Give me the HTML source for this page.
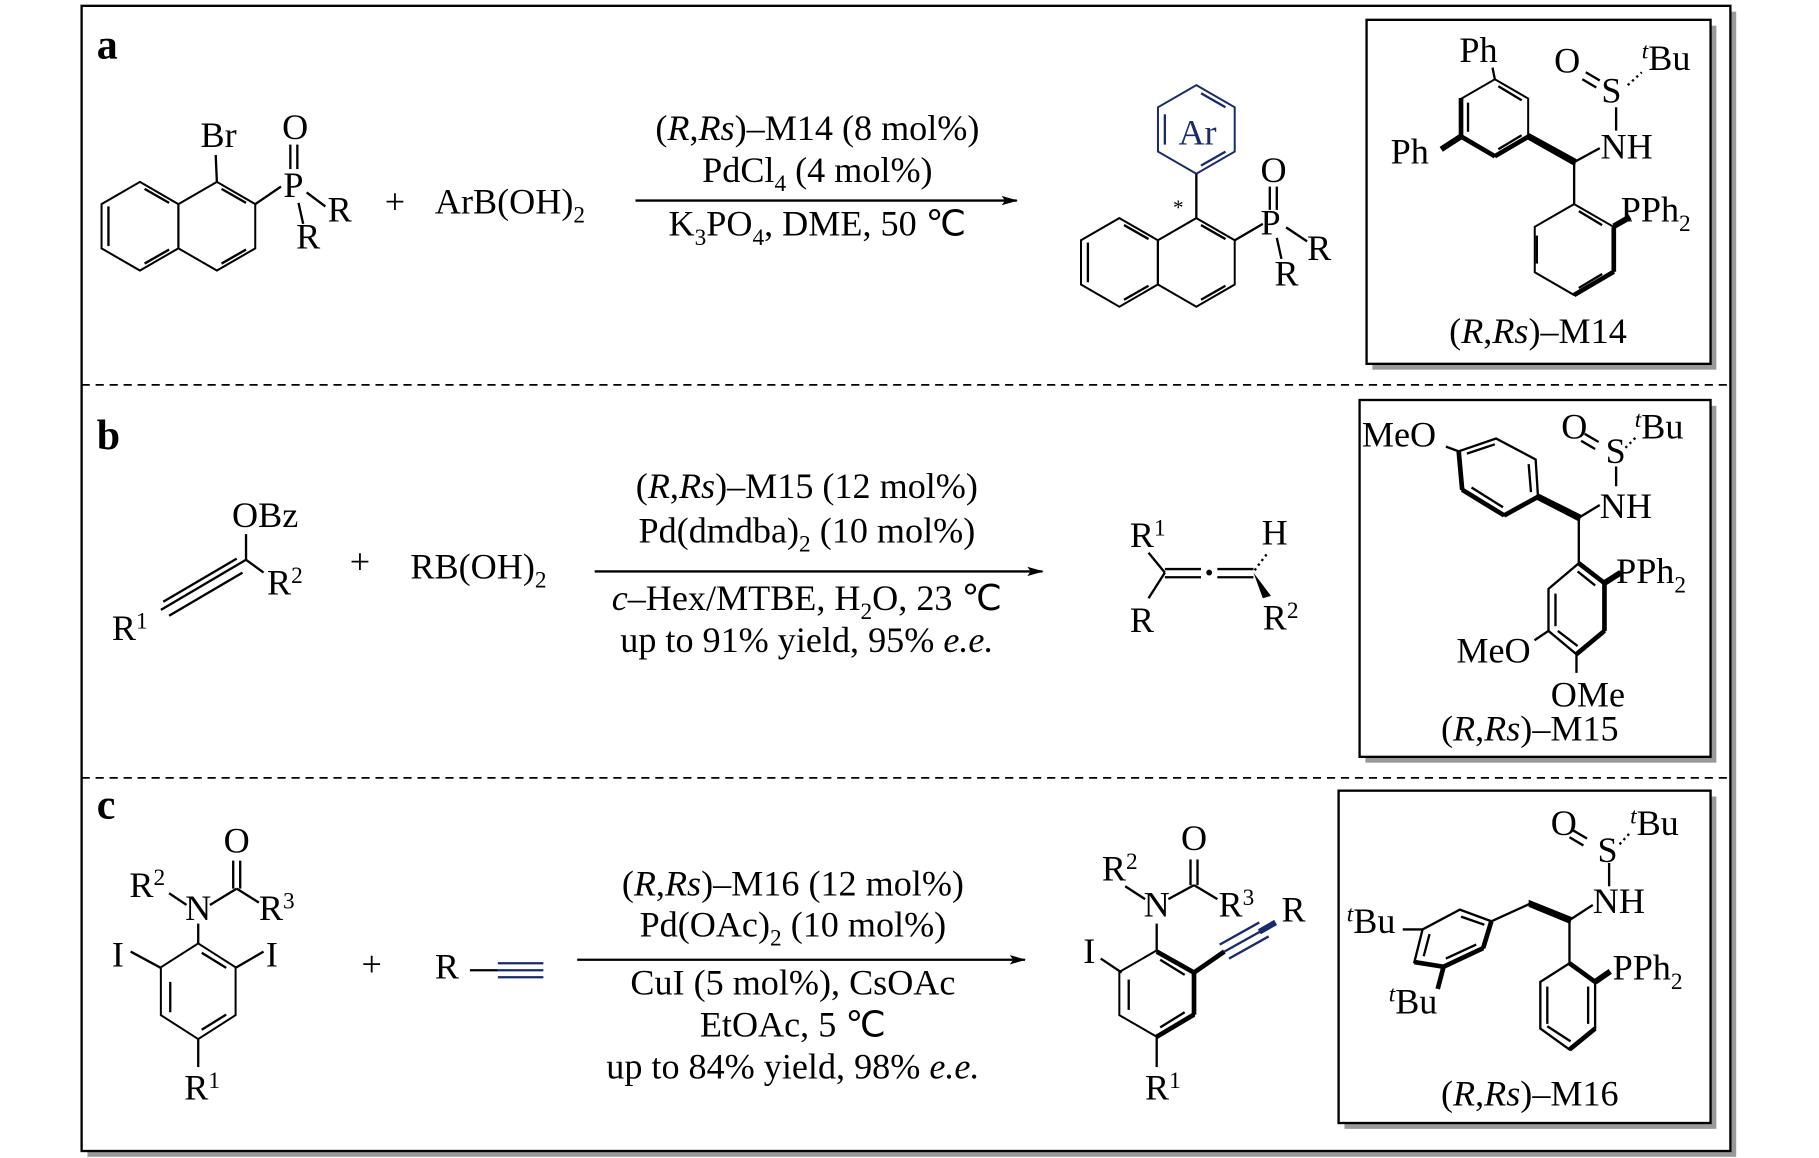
<!DOCTYPE html>
<html><head><meta charset="utf-8"><style>
html,body{margin:0;padding:0;background:#fff;}
svg{display:block;}
text{font-family:"Liberation Serif",serif;fill:#000;}
</style></head><body>
<svg width="1819" height="1158" viewBox="0 0 1560 993" preserveAspectRatio="none" xmlns="http://www.w3.org/2000/svg">
<defs>
<polygon id="hx" points="0,-1 0.866,-0.5 0.866,0.5 0,1 -0.866,0.5 -0.866,-0.5" fill="none" stroke="#000" stroke-width="2" vector-effect="non-scaling-stroke"/>
<polygon id="hxb" points="0,-1 0.866,-0.5 0.866,0.5 0,1 -0.866,0.5 -0.866,-0.5" fill="none" stroke="#1a2a6a" stroke-width="2" vector-effect="non-scaling-stroke"/>
<marker id="ar" markerWidth="14" markerHeight="8" refX="13" refY="4" orient="auto" markerUnits="userSpaceOnUse"><path d="M0,0 L14,4 L0,8 L3,4Z" fill="#000"/></marker>
</defs>
<rect x="75" y="10" width="1414" height="982" fill="#999"/>
<rect x="70" y="5" width="1414" height="982" fill="#fff" stroke="#000" stroke-width="2"/>
<line x1="70" y1="330" x2="1484" y2="330" stroke="#000" stroke-width="1.5" stroke-dasharray="7,5"/>
<line x1="70" y1="667" x2="1484" y2="667" stroke="#000" stroke-width="1.5" stroke-dasharray="7,5"/>
<rect x="1177" y="22" width="295" height="295" fill="#999"/>
<rect x="1172" y="17" width="295" height="295" fill="#fff" stroke="#000" stroke-width="2"/>
<rect x="1171" y="348" width="301" height="306" fill="#999"/>
<rect x="1166" y="343" width="301" height="306" fill="#fff" stroke="#000" stroke-width="2"/>
<rect x="1153" y="683" width="319" height="285" fill="#999"/>
<rect x="1148" y="678" width="319" height="285" fill="#fff" stroke="#000" stroke-width="2"/>

<g font-size="31">
<text x="83" y="50" font-weight="bold" font-size="36">a</text>
<text x="83" y="385" font-weight="bold" font-size="36">b</text>
<text x="83" y="702" font-weight="bold" font-size="36">c</text>

<!-- ===== a ===== -->
<use href="#hx" transform="translate(120,194) scale(38)"/>
<use href="#hx" transform="translate(186,194) scale(38)"/>
<g stroke="#000" stroke-width="2" fill="none">
<line x1="93" y1="177" x2="93" y2="211"/><line x1="124" y1="162" x2="145" y2="174"/><line x1="124" y1="226" x2="145" y2="214"/>
<line x1="190" y1="162" x2="211" y2="174"/><line x1="190" y1="226" x2="211" y2="214"/>
<line x1="186" y1="156" x2="185" y2="133"/>
<line x1="219" y1="175" x2="241" y2="160"/>
<line x1="249" y1="124" x2="249" y2="145"/><line x1="255" y1="124" x2="255" y2="145"/>
<line x1="263" y1="165" x2="279" y2="177"/>
<line x1="256" y1="174" x2="260" y2="192"/>
<line x1="545" y1="172" x2="872" y2="172" marker-end="url(#ar)"/>
</g>
<text x="172" y="126">Br</text>
<text x="242" y="119">O</text>
<text x="243" y="169">P</text>
<text x="281" y="190">R</text>
<text x="254" y="213">R</text>
<text x="330" y="183">+</text>
<text x="373" y="183">ArB(OH)<tspan font-size="20" dy="8">2</tspan></text>
<text x="701" y="120" text-anchor="middle">(<tspan font-style="italic">R</tspan>,<tspan font-style="italic">Rs</tspan>)–M14 (8 mol%)</text>
<text x="701" y="156" text-anchor="middle">PdCl<tspan font-size="20" dy="8">4</tspan><tspan dy="-8"> (4 mol%)</tspan></text>
<text x="701" y="202" text-anchor="middle">K<tspan font-size="20" dy="8">3</tspan><tspan dy="-8">PO</tspan><tspan font-size="20" dy="8">4</tspan><tspan dy="-8">, DME, 50 ℃</tspan></text>
<!-- product a -->
<use href="#hx" transform="translate(960,225) scale(38)"/>
<use href="#hx" transform="translate(1026,225) scale(38)"/>
<use href="#hxb" transform="translate(1026,111) scale(38)"/>
<g stroke="#000" stroke-width="2">
<line x1="933" y1="208" x2="933" y2="242"/><line x1="964" y1="257" x2="985" y2="245"/><line x1="964" y1="193" x2="985" y2="205"/>
<line x1="1030" y1="257" x2="1051" y2="245"/><line x1="1030" y1="193" x2="1051" y2="205"/>
<line x1="1026" y1="187" x2="1026" y2="149"/>
<line x1="1059" y1="206" x2="1083" y2="192"/>
<line x1="1089" y1="160" x2="1089" y2="180"/><line x1="1095" y1="160" x2="1095" y2="180"/>
<line x1="1103" y1="195" x2="1121" y2="207"/>
<line x1="1095" y1="204" x2="1099" y2="222"/>
</g>
<g stroke="#1a2a6a" stroke-width="2"><line x1="999" y1="98" x2="999" y2="124"/><line x1="1030" y1="80" x2="1051" y2="92"/><line x1="1030" y1="142" x2="1051" y2="130"/></g>
<text x="1027" y="124" text-anchor="middle" style="fill:#1a2a6a">Ar</text>
<text x="1006" y="184" font-size="18">*</text>
<text x="1081" y="156">O</text>
<text x="1081" y="201">P</text>
<text x="1121" y="223">R</text>
<text x="1093" y="245">R</text>
<!-- M14 -->
<use href="#hx" transform="translate(1282,101) scale(33)"/>
<use href="#hx" transform="translate(1350,214) scale(39)"/>
<g stroke="#000" stroke-width="2">
<line x1="1259" y1="88" x2="1259" y2="113"/><line x1="1285" y1="74" x2="1305" y2="86"/><line x1="1285" y1="128" x2="1305" y2="116"/>
<line x1="1318" y1="202" x2="1318" y2="226"/><line x1="1354" y1="181" x2="1374" y2="193"/><line x1="1354" y1="247" x2="1374" y2="235"/>
<line x1="1282" y1="68" x2="1280" y2="58"/>
<line x1="1253" y1="84" x2="1253" y2="117" stroke-width="4"/>
<line x1="1253" y1="117" x2="1282" y2="134" stroke-width="4"/>
<line x1="1282" y1="134" x2="1311" y2="117" stroke-width="4"/>
<line x1="1253" y1="117" x2="1236" y2="128" stroke-width="5"/>
<line x1="1384" y1="195" x2="1384" y2="233" stroke-width="4"/>
<line x1="1384" y1="233" x2="1350" y2="253" stroke-width="4"/>
<line x1="1350" y1="139" x2="1372" y2="127"/>
<line x1="1350" y1="139" x2="1350" y2="175"/>
<line x1="1384" y1="194" x2="1398" y2="186" stroke-width="5"/>
<line x1="1386" y1="92" x2="1386" y2="112"/>
<line x1="1360" y1="62" x2="1372" y2="69"/><line x1="1357" y1="68" x2="1369" y2="75"/>
<line x1="1396" y1="73" x2="1408" y2="62" stroke-dasharray="2,3"/>
</g>
<polygon points="1311,115 1311,119 1350,141 1351,137" fill="#000" stroke="#000" stroke-width="2"/>
<text x="1268" y="53" text-anchor="middle">Ph</text>
<text x="1209" y="140" text-anchor="middle">Ph</text>
<text x="1395" y="136" text-anchor="middle">NH</text>
<text x="1382" y="88" text-anchor="middle">S</text>
<text x="1344" y="62" text-anchor="middle">O</text>
<text x="1408" y="60"><tspan font-style="italic" font-size="20" dy="-10">t</tspan><tspan dy="10">Bu</tspan></text>
<text x="1390" y="190">PPh<tspan font-size="20" dy="8">2</tspan></text>
<text x="1319" y="294" text-anchor="middle">(<tspan font-style="italic">R</tspan>,<tspan font-style="italic">Rs</tspan>)–M14</text>

<!-- ===== b ===== -->
<g stroke="#000" stroke-width="2">
<line x1="138" y1="523" x2="211" y2="480"/><line x1="140" y1="516" x2="203" y2="479"/><line x1="145" y1="528" x2="208" y2="491"/>
<line x1="211" y1="480" x2="211" y2="458"/>
<line x1="211" y1="480" x2="226" y2="491"/>
<line x1="510" y1="490" x2="894" y2="490" marker-end="url(#ar)"/>
</g>
<text x="199" y="452">OBz</text>
<text x="229" y="510">R<tspan font-size="20" dy="-10">2</tspan></text>
<text x="96" y="549">R<tspan font-size="20" dy="-10">1</tspan></text>
<text x="300" y="492">+</text>
<text x="352" y="496">RB(OH)<tspan font-size="20" dy="8">2</tspan></text>
<text x="692" y="427" text-anchor="middle">(<tspan font-style="italic">R</tspan>,<tspan font-style="italic">Rs</tspan>)–M15 (12 mol%)</text>
<text x="692" y="465" text-anchor="middle">Pd(dmdba)<tspan font-size="20" dy="8">2</tspan><tspan dy="-8"> (10 mol%)</tspan></text>
<text x="692" y="523" text-anchor="middle"><tspan font-style="italic">c</tspan>–Hex/MTBE, H<tspan font-size="20" dy="8">2</tspan><tspan dy="-8">O, 23 ℃</tspan></text>
<text x="692" y="559" text-anchor="middle">up to 91% yield, 95% <tspan font-style="italic">e.e.</tspan></text>
<!-- allene -->
<g stroke="#000" stroke-width="2">
<line x1="985" y1="474" x2="999" y2="491"/>
<line x1="985" y1="513" x2="999" y2="491"/>
<line x1="999" y1="488" x2="1030" y2="488"/><line x1="999" y1="495" x2="1030" y2="495"/>
<line x1="1044" y1="488" x2="1075" y2="488"/><line x1="1044" y1="495" x2="1075" y2="495"/>
<line x1="1076" y1="489" x2="1088" y2="473" stroke-dasharray="2,3"/>
</g>
<polygon points="1075,491 1090,511 1083,513" fill="#000"/>
<circle cx="1037" cy="491" r="2.5" fill="#000"/>
<text x="969" y="469">R<tspan font-size="20" dy="-10">1</tspan></text>
<text x="969" y="542">R</text>
<text x="1082" y="467">H</text>
<text x="1083" y="540">R<tspan font-size="20" dy="-10">2</tspan></text>
<!-- M15 -->
<polygon points="1251,387 1283,376 1317,394 1319,426 1290,442 1254,420" fill="none" stroke="#000" stroke-width="2"/>
<polygon points="1354,483 1376,500 1376,541 1352,561 1328,541 1328,505" fill="none" stroke="#000" stroke-width="2"/>
<g stroke="#000" stroke-width="2">
<line x1="1258" y1="389" x2="1282" y2="381"/><line x1="1311" y1="398" x2="1313" y2="422"/><line x1="1262" y1="418" x2="1289" y2="435"/>
<line x1="1334" y1="509" x2="1334" y2="537"/><line x1="1336" y1="541" x2="1353" y2="554"/><line x1="1353" y1="490" x2="1368" y2="502"/>
<line x1="1251" y1="387" x2="1254" y2="420" stroke-width="4"/>
<line x1="1254" y1="420" x2="1290" y2="442" stroke-width="4"/>
<line x1="1290" y1="442" x2="1319" y2="426" stroke-width="4"/>
<line x1="1354" y1="483" x2="1376" y2="500" stroke-width="4"/>
<line x1="1376" y1="500" x2="1376" y2="541" stroke-width="4"/>
<line x1="1376" y1="541" x2="1352" y2="561" stroke-width="4"/>
<line x1="1240" y1="383" x2="1251" y2="387"/>
<line x1="1354" y1="444" x2="1372" y2="433"/>
<line x1="1354" y1="444" x2="1354" y2="483"/>
<line x1="1376" y1="500" x2="1390" y2="491" stroke-width="5"/>
<line x1="1328" y1="541" x2="1316" y2="549"/>
<line x1="1352" y1="561" x2="1352" y2="577"/>
<line x1="1386" y1="400" x2="1386" y2="417"/>
<line x1="1359" y1="372" x2="1371" y2="379"/><line x1="1356" y1="378" x2="1368" y2="385"/>
<line x1="1394" y1="384" x2="1404" y2="374" stroke-dasharray="2,3"/>
</g>
<polygon points="1319,424 1319,428 1354,446 1355,442" fill="#000" stroke="#000" stroke-width="2"/>
<text x="1168" y="383">MeO</text>
<text x="1372" y="444">NH</text>
<text x="1377" y="397">S</text>
<text x="1339" y="376">O</text>
<text x="1402" y="376"><tspan font-style="italic" font-size="20" dy="-10">t</tspan><tspan dy="10">Bu</tspan></text>
<text x="1386" y="500">PPh<tspan font-size="20" dy="8">2</tspan></text>
<text x="1249" y="568">MeO</text>
<text x="1330" y="606">OMe</text>
<text x="1312" y="635" text-anchor="middle">(<tspan font-style="italic">R</tspan>,<tspan font-style="italic">Rs</tspan>)–M15</text>

<!-- ===== c ===== -->
<use href="#hx" transform="translate(170,850) scale(37,41)"/>
<g stroke="#000" stroke-width="2">
<line x1="146" y1="842" x2="146" y2="868"/><line x1="173" y1="817" x2="194" y2="830"/><line x1="173" y1="883" x2="194" y2="870"/>
<line x1="170" y1="809" x2="170" y2="792"/>
<line x1="145" y1="766" x2="160" y2="776"/>
<line x1="180" y1="776" x2="203" y2="762"/>
<line x1="200" y1="738" x2="200" y2="762"/><line x1="206" y1="738" x2="206" y2="762"/>
<line x1="203" y1="762" x2="222" y2="774"/>
<line x1="138" y1="830" x2="112" y2="816"/>
<line x1="202" y1="830" x2="226" y2="816"/>
<line x1="170" y1="891" x2="170" y2="915"/>
<line x1="403" y1="832" x2="427" y2="832"/>
<line x1="427" y1="826" x2="466" y2="826" stroke="#1a2a6a"/><line x1="427" y1="832" x2="466" y2="832" stroke="#1a2a6a"/><line x1="427" y1="838" x2="466" y2="838" stroke="#1a2a6a"/>
<line x1="495" y1="823" x2="879" y2="823" marker-end="url(#ar)"/>
</g>
<text x="203" y="731" text-anchor="middle">O</text>
<text x="111" y="769">R<tspan font-size="20" dy="-10">2</tspan></text>
<text x="170" y="789" text-anchor="middle">N</text>
<text x="222" y="789">R<tspan font-size="20" dy="-10">3</tspan></text>
<text x="96" y="829">I</text>
<text x="228" y="829">I</text>
<text x="310" y="837">+</text>
<text x="373" y="839">R</text>
<text x="158" y="943">R<tspan font-size="20" dy="-10">1</tspan></text>
<text x="680" y="768" text-anchor="middle">(<tspan font-style="italic">R</tspan>,<tspan font-style="italic">Rs</tspan>)–M16 (12 mol%)</text>
<text x="680" y="803" text-anchor="middle">Pd(OAc)<tspan font-size="20" dy="8">2</tspan><tspan dy="-8"> (10 mol%)</tspan></text>
<text x="680" y="853" text-anchor="middle">CuI (5 mol%), CsOAc</text>
<text x="680" y="889" text-anchor="middle">EtOAc, 5 ℃</text>
<text x="680" y="925" text-anchor="middle">up to 84% yield, 98% <tspan font-style="italic">e.e.</tspan></text>
<!-- product c -->
<use href="#hx" transform="translate(992,852) scale(37)"/>
<g stroke="#000" stroke-width="2">
<line x1="995" y1="823" x2="1016" y2="836"/><line x1="995" y1="881" x2="1016" y2="868"/>
<line x1="992" y1="816" x2="1024" y2="834" stroke-width="4"/>
<line x1="1024" y1="834" x2="1024" y2="870" stroke-width="4"/>
<line x1="1024" y1="870" x2="992" y2="889" stroke-width="4"/>
<line x1="968" y1="840" x2="968" y2="866"/>
<line x1="992" y1="816" x2="992" y2="792"/>
<line x1="965" y1="760" x2="982" y2="771"/>
<line x1="1002" y1="771" x2="1024" y2="759"/>
<line x1="1021" y1="737" x2="1021" y2="759"/><line x1="1027" y1="737" x2="1027" y2="759"/>
<line x1="1024" y1="759" x2="1044" y2="771"/>
<line x1="962" y1="834" x2="944" y2="822"/>
<line x1="1024" y1="834" x2="1050" y2="816" stroke-width="4"/>
<line x1="1050" y1="816" x2="1093" y2="792" stroke="#1a2a6a"/><line x1="1046" y1="810" x2="1080" y2="791" stroke="#1a2a6a"/><line x1="1054" y1="822" x2="1088" y2="803" stroke="#1a2a6a"/>
<line x1="1080" y1="799" x2="1094" y2="791" stroke="#1a2a6a" stroke-width="5"/>
<line x1="992" y1="889" x2="992" y2="915"/>
</g>
<text x="1024" y="729" text-anchor="middle">O</text>
<text x="945" y="755">R<tspan font-size="20" dy="-10">2</tspan></text>
<text x="992" y="786" text-anchor="middle">N</text>
<text x="1045" y="786">R<tspan font-size="20" dy="-10">3</tspan></text>
<text x="1099" y="790">R</text>
<text x="929" y="826">I</text>
<text x="982" y="943">R<tspan font-size="20" dy="-10">1</tspan></text>
<!-- M16 -->
<polygon points="1279,790 1272,813 1238,829 1213,825 1220,797 1252,780" fill="none" stroke="#000" stroke-width="2"/>
<polygon points="1346,826 1368,842 1368,882 1346,900 1321,882 1321,842" fill="none" stroke="#000" stroke-width="2"/>
<g stroke="#000" stroke-width="2">
<line x1="1226" y1="801" x2="1221" y2="820"/><line x1="1253" y1="786" x2="1273" y2="793"/><line x1="1240" y1="822" x2="1266" y2="810"/>
<line x1="1327" y1="846" x2="1327" y2="878"/><line x1="1362" y1="846" x2="1362" y2="878"/><line x1="1347" y1="893" x2="1327" y2="880"/>
<line x1="1279" y1="790" x2="1272" y2="813" stroke-width="4"/>
<line x1="1272" y1="813" x2="1238" y2="829" stroke-width="4"/>
<line x1="1238" y1="829" x2="1213" y2="825" stroke-width="4"/>
<line x1="1346" y1="826" x2="1368" y2="842" stroke-width="4"/>
<line x1="1368" y1="882" x2="1346" y2="900" stroke-width="4"/>
<line x1="1279" y1="790" x2="1312" y2="775"/>
<line x1="1346" y1="789" x2="1366" y2="776"/>
<line x1="1346" y1="789" x2="1346" y2="826"/>
<line x1="1368" y1="842" x2="1381" y2="833" stroke-width="5"/>
<line x1="1220" y1="797" x2="1203" y2="797"/>
<line x1="1238" y1="829" x2="1233" y2="848" stroke-width="4"/>
<line x1="1380" y1="740" x2="1380" y2="760"/>
<line x1="1349" y1="712" x2="1361" y2="719"/><line x1="1346" y1="718" x2="1358" y2="725"/>
<line x1="1389" y1="724" x2="1399" y2="713" stroke-dasharray="2,3"/>
</g>
<polygon points="1312,773 1312,777 1346,791 1347,787" fill="#000" stroke="#000" stroke-width="2"/>
<text x="1366" y="783">NH</text>
<text x="1370" y="739">S</text>
<text x="1330" y="716">O</text>
<text x="1398" y="716"><tspan font-style="italic" font-size="20" dy="-10">t</tspan><tspan dy="10">Bu</tspan></text>
<text x="1155" y="800"><tspan font-style="italic" font-size="20" dy="-10">t</tspan><tspan dy="10">Bu</tspan></text>
<text x="1191" y="869"><tspan font-style="italic" font-size="20" dy="-10">t</tspan><tspan dy="10">Bu</tspan></text>
<text x="1383" y="840">PPh<tspan font-size="20" dy="8">2</tspan></text>
<text x="1312" y="948" text-anchor="middle">(<tspan font-style="italic">R</tspan>,<tspan font-style="italic">Rs</tspan>)–M16</text>
</g>
</svg>
</body></html>
